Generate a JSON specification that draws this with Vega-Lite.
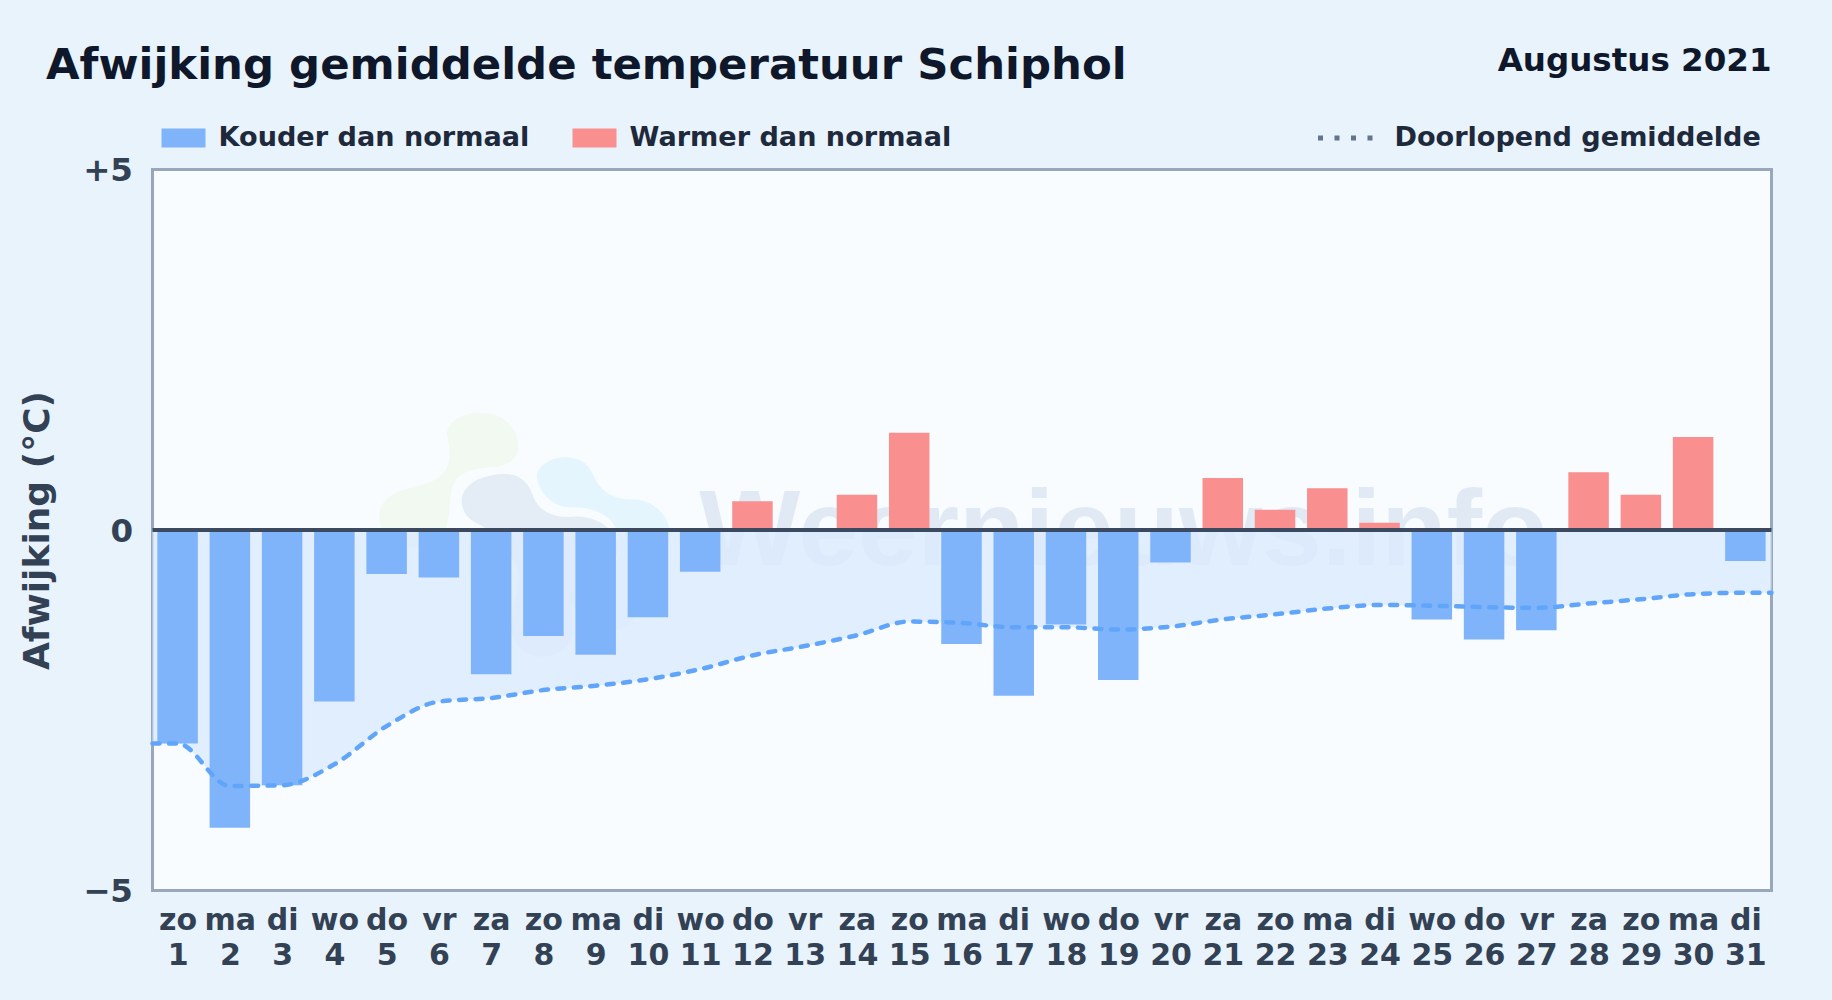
{
"$schema":"https://vega.github.io/schema/vega-lite/v6.json",
"autosize":{"type":"none"},
"padding":{"left":152.5,"top":169.5,"right":60.5,"bottom":109},
"width":1619,"height":721,
"background":"#e8f3fc",
"view":{"fill":"#f8fcff","stroke":"#98a7bb","strokeWidth":3},
"title":{"text":"Afwijking gemiddelde temperatuur Schiphol","anchor":"start","frame":"group","dx":-106.5,"dy":78,"offset":34,"fontSize":43.4,"font":"DejaVu Sans","fontWeight":"bold","color":"#0f172a"},
"datasets":{
"notitie":[{"n":1}],
"dagen":[
{"dag":1,"afwijking":-2.96,"soort":"Kouder dan normaal"},
{"dag":2,"afwijking":-4.13,"soort":"Kouder dan normaal"},
{"dag":3,"afwijking":-3.54,"soort":"Kouder dan normaal"},
{"dag":4,"afwijking":-2.38,"soort":"Kouder dan normaal"},
{"dag":5,"afwijking":-0.61,"soort":"Kouder dan normaal"},
{"dag":6,"afwijking":-0.66,"soort":"Kouder dan normaal"},
{"dag":7,"afwijking":-2.0,"soort":"Kouder dan normaal"},
{"dag":8,"afwijking":-1.47,"soort":"Kouder dan normaal"},
{"dag":9,"afwijking":-1.73,"soort":"Kouder dan normaal"},
{"dag":10,"afwijking":-1.21,"soort":"Kouder dan normaal"},
{"dag":11,"afwijking":-0.58,"soort":"Kouder dan normaal"},
{"dag":12,"afwijking":0.4,"soort":"Warmer dan normaal"},
{"dag":13,"afwijking":0,"soort":"Warmer dan normaal"},
{"dag":14,"afwijking":0.49,"soort":"Warmer dan normaal"},
{"dag":15,"afwijking":1.35,"soort":"Warmer dan normaal"},
{"dag":16,"afwijking":-1.58,"soort":"Kouder dan normaal"},
{"dag":17,"afwijking":-2.3,"soort":"Kouder dan normaal"},
{"dag":18,"afwijking":-1.31,"soort":"Kouder dan normaal"},
{"dag":19,"afwijking":-2.08,"soort":"Kouder dan normaal"},
{"dag":20,"afwijking":-0.45,"soort":"Kouder dan normaal"},
{"dag":21,"afwijking":0.72,"soort":"Warmer dan normaal"},
{"dag":22,"afwijking":0.28,"soort":"Warmer dan normaal"},
{"dag":23,"afwijking":0.58,"soort":"Warmer dan normaal"},
{"dag":24,"afwijking":0.1,"soort":"Warmer dan normaal"},
{"dag":25,"afwijking":-1.24,"soort":"Kouder dan normaal"},
{"dag":26,"afwijking":-1.52,"soort":"Kouder dan normaal"},
{"dag":27,"afwijking":-1.39,"soort":"Kouder dan normaal"},
{"dag":28,"afwijking":0.8,"soort":"Warmer dan normaal"},
{"dag":29,"afwijking":0.49,"soort":"Warmer dan normaal"},
{"dag":30,"afwijking":1.29,"soort":"Warmer dan normaal"},
{"dag":31,"afwijking":-0.43,"soort":"Kouder dan normaal"}
],
"lijn":[
{"dag":0.52,"gemiddelde":-2.96,"reeks":"Doorlopend gemiddelde"},
{"dag":1,"gemiddelde":-2.96,"reeks":"Doorlopend gemiddelde"},
{"dag":2,"gemiddelde":-3.55,"reeks":"Doorlopend gemiddelde"},
{"dag":3,"gemiddelde":-3.54,"reeks":"Doorlopend gemiddelde"},
{"dag":4,"gemiddelde":-3.25,"reeks":"Doorlopend gemiddelde"},
{"dag":5,"gemiddelde":-2.72,"reeks":"Doorlopend gemiddelde"},
{"dag":6,"gemiddelde":-2.38,"reeks":"Doorlopend gemiddelde"},
{"dag":7,"gemiddelde":-2.33,"reeks":"Doorlopend gemiddelde"},
{"dag":8,"gemiddelde":-2.22,"reeks":"Doorlopend gemiddelde"},
{"dag":9,"gemiddelde":-2.16,"reeks":"Doorlopend gemiddelde"},
{"dag":10,"gemiddelde":-2.07,"reeks":"Doorlopend gemiddelde"},
{"dag":11,"gemiddelde":-1.93,"reeks":"Doorlopend gemiddelde"},
{"dag":12,"gemiddelde":-1.74,"reeks":"Doorlopend gemiddelde"},
{"dag":13,"gemiddelde":-1.61,"reeks":"Doorlopend gemiddelde"},
{"dag":14,"gemiddelde":-1.46,"reeks":"Doorlopend gemiddelde"},
{"dag":15,"gemiddelde":-1.27,"reeks":"Doorlopend gemiddelde"},
{"dag":16,"gemiddelde":-1.29,"reeks":"Doorlopend gemiddelde"},
{"dag":17,"gemiddelde":-1.35,"reeks":"Doorlopend gemiddelde"},
{"dag":18,"gemiddelde":-1.35,"reeks":"Doorlopend gemiddelde"},
{"dag":19,"gemiddelde":-1.38,"reeks":"Doorlopend gemiddelde"},
{"dag":20,"gemiddelde":-1.34,"reeks":"Doorlopend gemiddelde"},
{"dag":21,"gemiddelde":-1.24,"reeks":"Doorlopend gemiddelde"},
{"dag":22,"gemiddelde":-1.17,"reeks":"Doorlopend gemiddelde"},
{"dag":23,"gemiddelde":-1.09,"reeks":"Doorlopend gemiddelde"},
{"dag":24,"gemiddelde":-1.04,"reeks":"Doorlopend gemiddelde"},
{"dag":25,"gemiddelde":-1.05,"reeks":"Doorlopend gemiddelde"},
{"dag":26,"gemiddelde":-1.07,"reeks":"Doorlopend gemiddelde"},
{"dag":27,"gemiddelde":-1.08,"reeks":"Doorlopend gemiddelde"},
{"dag":28,"gemiddelde":-1.02,"reeks":"Doorlopend gemiddelde"},
{"dag":29,"gemiddelde":-0.96,"reeks":"Doorlopend gemiddelde"},
{"dag":30,"gemiddelde":-0.89,"reeks":"Doorlopend gemiddelde"},
{"dag":31,"gemiddelde":-0.87,"reeks":"Doorlopend gemiddelde"},
{"dag":31.5,"gemiddelde":-0.87,"reeks":"Doorlopend gemiddelde"}
]
},
"data":{"name":"notitie"},
"layer":[
{"mark":{"type":"point","filled":true,"size":0.4444,"color":"#84cc16","opacity":0.06,"shape":"M-240,-270 C-230,-320 -170,-335 -120,-330 C-60,-325 -20,-270 -25,-225 C-30,-185 -70,-170 -100,-168 C-140,-165 -210,-165 -225,-100 C-235,-60 -225,-30 -250,40 C-280,70 -320,72 -350,72 C-400,70 -440,30 -442,-15 C-445,-55 -420,-85 -370,-100 C-310,-115 -280,-120 -250,-150 C-225,-180 -230,-230 -240,-270 Z"},
"encoding":{"x":{"datum":7.68},"y":{"datum":0.093}}},
{"mark":{"type":"point","filled":true,"size":0.4444,"color":"#1e5a9e","opacity":0.09,"shape":"M-195,-70 C-190,-130 -110,-150 -60,-148 C-10,-145 10,-110 20,-80 C40,-30 90,-15 140,-20 C210,-25 270,20 275,70 C278,130 220,170 150,190 C130,200 140,280 140,320 C140,370 90,400 50,400 C-10,400 -45,360 -45,310 C-45,260 -30,220 -20,160 C-30,100 -100,20 -150,0 C-180,-15 -195,-40 -195,-70 Z"},
"encoding":{"x":{"datum":7.68},"y":{"datum":0.093}}},
{"mark":{"type":"point","filled":true,"size":0.4444,"color":"#38bdf8","opacity":0.1,"shape":"M30,-140 C35,-185 90,-200 125,-198 C170,-195 190,-170 205,-135 C225,-90 270,-72 310,-72 C380,-75 430,-20 430,30 C430,90 390,110 370,150 C350,230 330,310 270,320 C220,325 140,280 130,220 C130,190 210,180 260,130 C290,100 290,20 240,-20 C200,-45 170,-48 140,-48 C90,-45 40,-80 30,-140 Z"},
"encoding":{"x":{"datum":7.68},"y":{"datum":0.093}}},
{"mark":{"type":"text","font":"Liberation Sans","fontWeight":"bold","fontSize":107,"color":"#1e5a9e","opacity":0.1,"align":"center","baseline":"alphabetic"},
"encoding":{"x":{"datum":19.1},"y":{"datum":-0.486},"text":{"value":"Weernieuws.info"}}},
{
"data":{"name":"dagen"},
"encoding":{
"x":{"field":"dag","type":"quantitative","scale":{"domain":[0.52,31.5],"nice":false,"zero":false,"padding":0},
"axis":{"title":null,"values":[1,2,3,4,5,6,7,8,9,10,11,12,13,14,15,16,17,18,19,20,21,22,23,24,25,26,27,28,29,30,31],
"labelExpr":"[['zo','ma','di','wo','do','vr','za'][(datum.value-1)%7],''+datum.value]",
"domain":false,"ticks":false,"grid":false,"labelFont":"DejaVu Sans","labelFontWeight":"bold","labelFontSize":30,"labelColor":"#334155","labelLineHeight":35,"labelPadding":15,"labelOverlap":false,"labelFlush":false,"labelBaseline":"top"}}
},
"layer":[
{"data":{"name":"lijn"},"mark":{"type":"area","interpolate":"monotone","color":"#dbeafe","opacity":0.8},
"encoding":{"y":{"field":"gemiddelde","type":"quantitative","scale":{"domain":[-5,5],"nice":false},"axis":{"title":"Afwijking (°C)","values":[-5,0,5],"labelExpr":"datum.value>0?'+'+datum.value:(datum.value<0?'−'+abs(datum.value):'0')","domain":false,"ticks":false,"grid":false,"labelFont":"DejaVu Sans","labelFontWeight":"bold","labelFontSize":32.5,"labelColor":"#334155","labelPadding":20,"labelOffset":1,"titleFont":"DejaVu Sans","titleFontWeight":"bold","titleFontSize":36,"titleColor":"#334155","titlePadding":26}},"y2":{"datum":0}}},
{"mark":{"type":"bar","width":40.5},
"encoding":{"y":{"field":"afwijking","type":"quantitative"},"y2":{"datum":0},
"fill":{"field":"soort","type":"nominal","scale":{"domain":["Kouder dan normaal","Warmer dan normaal"],"range":["#7fb4fb","#f98f8f"]},
"legend":{"title":null,"orient":"none","legendX":9,"legendY":-54,"direction":"horizontal","columns":2,"columnPadding":43,"symbolType":"M-1,-0.43H1V0.43H-1Z","symbolSize":1936,"symbolStrokeWidth":0,"labelFont":"DejaVu Sans","labelFontWeight":"bold","labelFontSize":27.1,"labelColor":"#1e293b","labelOffset":13,"labelLimit":600}}}},
{"data":{"name":"lijn"},"mark":{"type":"line","interpolate":"monotone","stroke":"#60a5fa","strokeWidth":4.5,"strokeDash":[7,9.5],"strokeCap":"round"},
"encoding":{"y":{"field":"gemiddelde","type":"quantitative"}}},
{"data":{"name":"lijn"},"mark":{"type":"line","strokeWidth":0},
"encoding":{"y":{"field":"gemiddelde","type":"quantitative"},
"stroke":{"field":"reeks","type":"nominal","scale":{"range":["#64748b"]},
"legend":{"title":null,"orient":"none","legendX":1163,"legendY":-62,"symbolType":"stroke","symbolSize":3136,"symbolStrokeWidth":5,"symbolDash":[5,11.5],"labelFont":"DejaVu Sans","labelFontWeight":"bold","labelFontSize":27.1,"labelColor":"#1e293b","labelOffset":18,"labelLimit":600}}}}
]},
{"mark":{"type":"rule","color":"#3b4a60","strokeWidth":4},"encoding":{"y":{"datum":0},"x":{"datum":0.52},"x2":{"datum":31.5}}},
{"mark":{"type":"text","font":"DejaVu Sans","fontWeight":"bold","fontSize":32.5,"color":"#0f172a","align":"right","baseline":"alphabetic","dy":-99},
"encoding":{"x":{"datum":31.5},"y":{"datum":5},"text":{"value":"Augustus 2021"}}}
]
}
